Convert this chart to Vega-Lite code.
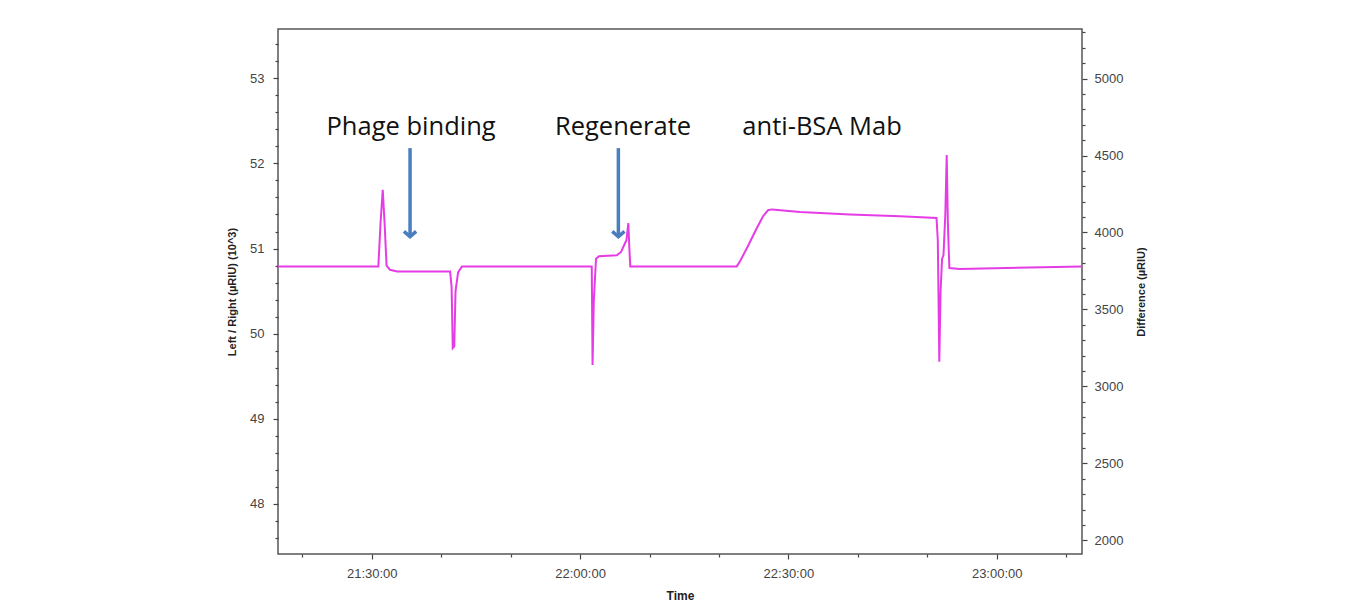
{
  "$schema": "https://vega.github.io/schema/vega-lite/v6.json",
  "width": 804,
  "height": 525,
  "autosize": {"type": "none"},
  "padding": {"left": 278, "top": 29, "right": 286, "bottom": 59},
  "background": "white",
  "config": {
    "view": {"stroke": "#555555", "strokeWidth": 1.5},
    "axis": {
      "domain": false,
      "grid": false,
      "labelOverlap": false,
      "labelBound": false,
      "labelFlush": false,
      "labelFont": "Liberation Sans",
      "labelFontSize": 13,
      "labelColor": "#444444",
      "tickColor": "#444444",
      "tickWidth": 1.2,
      "titleFont": "Liberation Sans",
      "titleFontSize": 11,
      "titleFontWeight": "bold",
      "titleColor": "#222222"
    }
  },
  "datasets": {
    "signal": [
      {"time": "2020-01-01T21:16:30", "value": 50.79},
      {"time": "2020-01-01T21:30:57", "value": 50.79},
      {"time": "2020-01-01T21:31:16", "value": 51.3},
      {"time": "2020-01-01T21:31:35", "value": 51.69},
      {"time": "2020-01-01T21:31:51", "value": 51.3},
      {"time": "2020-01-01T21:32:08", "value": 50.8},
      {"time": "2020-01-01T21:32:38", "value": 50.75},
      {"time": "2020-01-01T21:33:39", "value": 50.73},
      {"time": "2020-01-01T21:41:17", "value": 50.73},
      {"time": "2020-01-01T21:41:30", "value": 50.55},
      {"time": "2020-01-01T21:41:40", "value": 49.83},
      {"time": "2020-01-01T21:41:53", "value": 49.85},
      {"time": "2020-01-01T21:42:04", "value": 50.5},
      {"time": "2020-01-01T21:42:26", "value": 50.72},
      {"time": "2020-01-01T21:43:00", "value": 50.79},
      {"time": "2020-01-01T22:01:41", "value": 50.79},
      {"time": "2020-01-01T22:01:48", "value": 49.63},
      {"time": "2020-01-01T22:01:59", "value": 50.4},
      {"time": "2020-01-01T22:02:18", "value": 50.88},
      {"time": "2020-01-01T22:02:44", "value": 50.91},
      {"time": "2020-01-01T22:05:17", "value": 50.92},
      {"time": "2020-01-01T22:05:54", "value": 50.96},
      {"time": "2020-01-01T22:06:24", "value": 51.05},
      {"time": "2020-01-01T22:06:41", "value": 51.1},
      {"time": "2020-01-01T22:06:57", "value": 51.3},
      {"time": "2020-01-01T22:07:06", "value": 51.0},
      {"time": "2020-01-01T22:07:14", "value": 50.79},
      {"time": "2020-01-01T22:22:34", "value": 50.79},
      {"time": "2020-01-01T22:23:02", "value": 50.85},
      {"time": "2020-01-01T22:24:11", "value": 51.03},
      {"time": "2020-01-01T22:25:20", "value": 51.22},
      {"time": "2020-01-01T22:26:21", "value": 51.38},
      {"time": "2020-01-01T22:27:04", "value": 51.45},
      {"time": "2020-01-01T22:27:39", "value": 51.46},
      {"time": "2020-01-01T22:31:41", "value": 51.43},
      {"time": "2020-01-01T22:38:53", "value": 51.4},
      {"time": "2020-01-01T22:46:05", "value": 51.38},
      {"time": "2020-01-01T22:51:20", "value": 51.36},
      {"time": "2020-01-01T22:51:31", "value": 51.1},
      {"time": "2020-01-01T22:51:44", "value": 49.67},
      {"time": "2020-01-01T22:51:55", "value": 50.5},
      {"time": "2020-01-01T22:52:08", "value": 50.88},
      {"time": "2020-01-01T22:52:20", "value": 50.92},
      {"time": "2020-01-01T22:52:36", "value": 51.4},
      {"time": "2020-01-01T22:52:48", "value": 52.1},
      {"time": "2020-01-01T22:52:58", "value": 51.3},
      {"time": "2020-01-01T22:53:11", "value": 50.77},
      {"time": "2020-01-01T22:54:43", "value": 50.76},
      {"time": "2020-01-01T23:12:17", "value": 50.79}
    ],
    "notes": [
      {"time": "2020-01-01T21:35:40", "value": 52.33, "label": "Phage binding"},
      {"time": "2020-01-01T22:06:11", "value": 52.33, "label": "Regenerate"},
      {"time": "2020-01-01T22:34:51", "value": 52.33, "label": "anti-BSA Mab"}
    ],
    "arrows": [
      {"time": "2020-01-01T21:35:31", "value": 52.18, "tip": 51.14},
      {"time": "2020-01-01T22:05:31", "value": 52.18, "tip": 51.14}
    ]
  },
  "layer": [
    {
      "layer": [
        {
          "data": {"name": "signal"},
          "mark": {"type": "line", "color": "#e63ce6", "strokeWidth": 2, "clip": true},
          "encoding": {
            "x": {
              "field": "time",
              "type": "temporal",
              "scale": {"domain": [
                {"year": 2020, "month": 1, "date": 1, "hours": 21, "minutes": 16, "seconds": 30},
                {"year": 2020, "month": 1, "date": 1, "hours": 23, "minutes": 12, "seconds": 17}
              ]},
              "axis": {
                "orient": "bottom",
                "title": "Time",
                "titleFontSize": 12,
                "titlePadding": 10,
                "tickCount": 100,
                "values": [
                  {"year": 2020, "month": 1, "date": 1, "hours": 21, "minutes": 20},
                  {"year": 2020, "month": 1, "date": 1, "hours": 21, "minutes": 30},
                  {"year": 2020, "month": 1, "date": 1, "hours": 21, "minutes": 40},
                  {"year": 2020, "month": 1, "date": 1, "hours": 21, "minutes": 50},
                  {"year": 2020, "month": 1, "date": 1, "hours": 22, "minutes": 0},
                  {"year": 2020, "month": 1, "date": 1, "hours": 22, "minutes": 10},
                  {"year": 2020, "month": 1, "date": 1, "hours": 22, "minutes": 20},
                  {"year": 2020, "month": 1, "date": 1, "hours": 22, "minutes": 30},
                  {"year": 2020, "month": 1, "date": 1, "hours": 22, "minutes": 40},
                  {"year": 2020, "month": 1, "date": 1, "hours": 22, "minutes": 50},
                  {"year": 2020, "month": 1, "date": 1, "hours": 23, "minutes": 0},
                  {"year": 2020, "month": 1, "date": 1, "hours": 23, "minutes": 10}
                ],
                "labelExpr": "minutes(datum.value) % 30 == 0 ? timeFormat(datum.value, '%H:%M:%S') : ''",
                "tickSize": {"condition": {"test": "minutes(datum.value) % 30 == 0", "value": 5}, "value": 3},
                "labelPadding": 8
              }
            },
            "y": {
              "field": "value",
              "type": "quantitative",
              "scale": {"domain": [47.41, 53.58], "zero": false, "nice": false},
              "axis": {
                "orient": "left",
                "title": "Left / Right (µRIU) (10^3)",
                "tickCount": 100,
                "values": [47.6, 47.8, 48, 48.2, 48.4, 48.6, 48.8, 49, 49.2, 49.4, 49.6, 49.8, 50, 50.2, 50.4, 50.6, 50.8, 51, 51.2, 51.4, 51.6, 51.8, 52, 52.2, 52.4, 52.6, 52.8, 53, 53.2, 53.4],
                "labelExpr": "abs(datum.value - round(datum.value)) < 0.001 ? format(datum.value, 'd') : ''",
                "tickSize": {"condition": {"test": "abs(datum.value - round(datum.value)) < 0.001", "value": 5}, "value": 3},
                "labelPadding": 9,
                "titlePadding": 12
              }
            }
          }
        },
        {
          "data": {"name": "arrows"},
          "mark": {"type": "rule", "color": "#4a7ebf", "strokeWidth": 3.5},
          "encoding": {
            "x": {"field": "time", "type": "temporal"},
            "y": {"field": "value", "type": "quantitative"},
            "y2": {"field": "tip"}
          }
        },
        {
          "data": {"name": "arrows"},
          "mark": {"type": "point", "shape": "M-1,-0.85L0,0L1,-0.85", "filled": false, "color": "#4a7ebf", "strokeWidth": 3.5, "size": 150, "opacity": 1, "strokeJoin": "miter"},
          "encoding": {
            "x": {"field": "time", "type": "temporal"},
            "y": {"field": "tip", "type": "quantitative"}
          }
        },
        {
          "data": {"name": "notes"},
          "mark": {"type": "text", "font": "Open Sans", "fontSize": 25.5, "color": "#111111", "align": "center", "baseline": "alphabetic"},
          "encoding": {
            "x": {"field": "time", "type": "temporal"},
            "y": {"field": "value", "type": "quantitative"},
            "text": {"field": "label"}
          }
        }
      ]
    },
    {
      "data": {"name": "signal"},
      "mark": {"type": "line", "opacity": 0, "clip": true},
      "encoding": {
        "x": {"field": "time", "type": "temporal"},
        "y": {
          "field": "value",
          "type": "quantitative",
          "scale": {"domain": [1911, 5322], "zero": false, "nice": false},
          "axis": {
            "orient": "right",
            "title": "Difference (µRIU)",
            "titleAngle": 270,
            "tickCount": 100,
            "values": [2000, 2100, 2200, 2300, 2400, 2500, 2600, 2700, 2800, 2900, 3000, 3100, 3200, 3300, 3400, 3500, 3600, 3700, 3800, 3900, 4000, 4100, 4200, 4300, 4400, 4500, 4600, 4700, 4800, 4900, 5000, 5100, 5200, 5300],
            "labelExpr": "datum.value % 500 == 0 ? format(datum.value, 'd') : ''",
            "tickSize": {"condition": {"test": "datum.value % 500 == 0", "value": 5}, "value": 3},
            "labelPadding": 7,
            "titlePadding": 24
          }
        }
      }
    }
  ],
  "resolve": {"scale": {"y": "independent"}, "axis": {"y": "independent"}}
}
